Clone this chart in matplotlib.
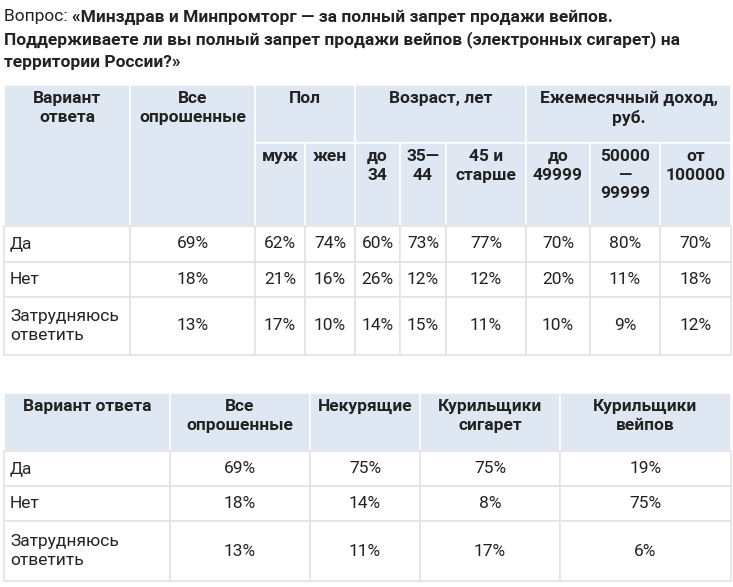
import matplotlib.pyplot as plt
from matplotlib.patches import Rectangle

plt.rcParams['font.family'] = 'Roboto'

title_lines = ['«Минздрав и Минпромторг — за полный запрет продажи вейпов.',
               'Поддерживаете ли вы полный запрет продажи вейпов (электронных сигарет) на',
               'территории России?»']

answers = ['Да', 'Нет', 'Затрудняюсь\nответить']

# table 1
groups1 = [('Пол', 2), ('Возраст, лет', 3), ('Ежемесячный доход,\nруб.', 3)]
sub1 = ['муж', 'жен', 'до\n34', '35—\n44', '45 и\nстарше', 'до\n49999', '50000\n—\n99999', 'от\n100000']
all1 = ['69%', '18%', '13%']
vals1 = [['62%', '74%', '60%', '73%', '77%', '70%', '80%', '70%'],
         ['21%', '16%', '26%', '12%', '12%', '20%', '11%', '18%'],
         ['17%', '10%', '14%', '15%', '11%', '10%', '9%', '12%']]

# table 2
cols2 = ['Все\nопрошенные', 'Некурящие', 'Курильщики\nсигарет', 'Курильщики\nвейпов']
vals2 = [['69%', '75%', '75%', '19%'],
         ['18%', '14%', '8%', '75%'],
         ['13%', '11%', '17%', '6%']]

HEAD = '#dfe7f2'
GRID = '#e3e3e3'
FS = 12.5
TC = '#222222'

fig = plt.figure(figsize=(7.33, 5.87), dpi=100)
ax = fig.add_axes([0, 0, 1, 1])
ax.set_xlim(0, 733)
ax.set_ylim(587, 0)
ax.axis('off')


def cell(x0, x1, y0, y1, text, head=False, ha='center', va='center', ty=None):
    ax.add_patch(Rectangle((x0, y0), x1 - x0, y1 - y0,
                           facecolor=HEAD if head else 'white',
                           edgecolor='white' if head else GRID, lw=1.2))
    tx = (x0 + x1) / 2 if ha == 'center' else x0 + 6
    if ty is None:
        ty = (y0 + y1) / 2
    ax.text(tx, ty, text, ha=ha, va=va, fontsize=FS, color=TC,
            fontweight='bold' if head else 'normal', linespacing=1.3)


# title
t0 = ax.text(4, 17, 'Вопрос: ', fontsize=FS, va='center', color=TC)
ax.annotate(title_lines[0], xy=(1, 0.5), xycoords=t0, va='center',
            fontsize=FS, fontweight='bold', color=TC)
ax.text(4, 40, title_lines[1], fontsize=FS, va='center', fontweight='bold', color=TC)
ax.text(4, 62, title_lines[2], fontsize=FS, va='center', fontweight='bold', color=TC)

# table 1 geometry
xs = [4, 130, 255, 305, 355, 400, 446, 526, 590, 660, 731]
ys = [85, 143, 226, 262, 297, 355]
cell(xs[0], xs[1], ys[0], ys[2], 'Вариант\nответа', True, va='top', ty=ys[0] + 6)
cell(xs[1], xs[2], ys[0], ys[2], 'Все\nопрошенные', True, va='top', ty=ys[0] + 6)
c = 2
for name, span in groups1:
    cell(xs[c], xs[c + span], ys[0], ys[1], name, True, va='top', ty=ys[0] + 6)
    c += span
for j, s in enumerate(sub1):
    cell(xs[j + 2], xs[j + 3], ys[1], ys[2], s, True, va='top', ty=ys[1] + 6)
for i, a in enumerate(answers):
    cell(xs[0], xs[1], ys[i + 2], ys[i + 3], a, ha='left')
    cell(xs[1], xs[2], ys[i + 2], ys[i + 3], all1[i])
    for j, v in enumerate(vals1[i]):
        cell(xs[j + 2], xs[j + 3], ys[i + 2], ys[i + 3], v)

# table 2 geometry
xs2 = [4, 170, 310, 420, 560, 731]
ys2 = [393, 451, 486, 521, 581]
cell(xs2[0], xs2[1], ys2[0], ys2[1], 'Вариант ответа', True, va='top', ty=ys2[0] + 6)
for j, cname in enumerate(cols2):
    cell(xs2[j + 1], xs2[j + 2], ys2[0], ys2[1], cname, True, va='top', ty=ys2[0] + 6)
for i, a in enumerate(answers):
    cell(xs2[0], xs2[1], ys2[i + 1], ys2[i + 2], a, ha='left')
    for j, v in enumerate(vals2[i]):
        cell(xs2[j + 1], xs2[j + 2], ys2[i + 1], ys2[i + 2], v)

fig.savefig('out.png', dpi=100)
